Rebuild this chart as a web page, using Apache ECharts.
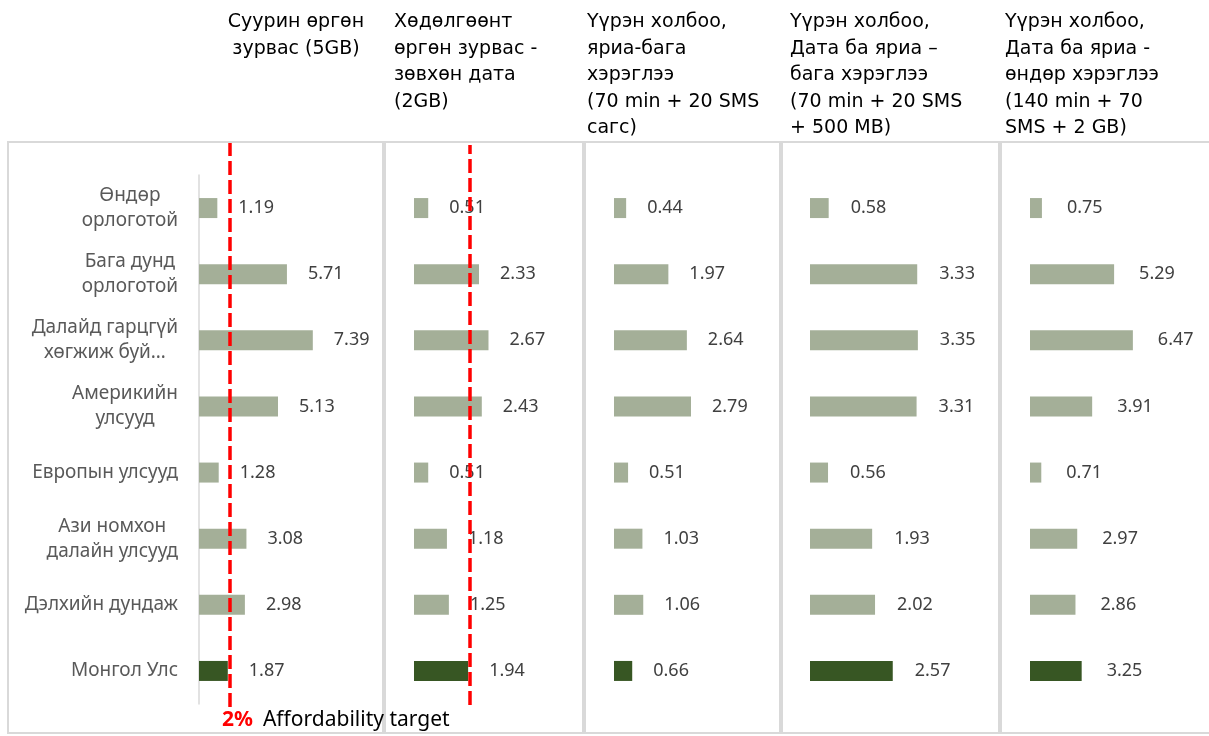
<!DOCTYPE html>
<html>
<head>
<meta charset="utf-8">
<script src="https://cdn.jsdelivr.net/npm/echarts@6/dist/echarts.min.js"></script>
<style>
html, body { margin: 0; padding: 0; background: #fff; }
#chart { width: 1209px; height: 736px; }
</style>
</head>
<body>
<div id="chart"></div>
<script>
// categories (top to bottom)
const categories = [
    'Өндөр\nорлоготой',
    'Бага дунд\nорлоготой',
    'Далайд гарцгүй\nхөгжиж буй…',
    'Америкийн\nулсууд',
    'Европын улсууд',
    'Ази номхон\nдалайн улсууд',
    'Дэлхийн дундаж',
    'Монгол Улс'
]
const highlightCategory = 'Монгол Улс'

// panel headers
const headers = [
    'Суурин өргөн\nзурвас (5GB)',
    'Хөдөлгөөнт\nөргөн зурвас -\nзөвхөн дата\n(2GB)',
    'Үүрэн холбоо,\nяриа-бага\nхэрэглээ\n(70 min + 20 SMS\nсагс)',
    'Үүрэн холбоо,\nДата ба яриа –\nбага хэрэглээ\n(70 min + 20 SMS\n+ 500 MB)',
    'Үүрэн холбоо,\nДата ба яриа -\nөндөр хэрэглээ\n(140 min + 70\nSMS + 2 GB)'
]

// values, % of income
const fixedBroadband = [1.19, 5.71, 7.39, 5.13, 1.28, 3.08, 2.98, 1.87]
const mobileDataOnly = [0.51, 2.33, 2.67, 2.43, 0.51, 1.18, 1.25, 1.94]
const voiceLowUsage = [0.44, 1.97, 2.64, 2.79, 0.51, 1.03, 1.06, 0.66]
const dataVoiceLowUsage = [0.58, 3.33, 3.35, 3.31, 0.56, 1.93, 2.02, 2.57]
const dataVoiceHighUsage = [0.75, 5.29, 6.47, 3.91, 0.71, 2.97, 2.86, 3.25]

const affordabilityTarget = 2
const axisMax = [10, 5, 5, 5, 10]

const panelValues = [fixedBroadband, mobileDataOnly, voiceLowUsage, dataVoiceLowUsage, dataVoiceHighUsage]

// layout of each panel (bar area)
const panels = [
    {left: 199, width: 154, labelDist: 21, header: {left: 296, align: 'center'}},
    {left: 414, width: 139.5, labelDist: 21, header: {left: 394, align: 'left'}},
    {left: 614, width: 138, labelDist: 21, header: {left: 587, align: 'left'}},
    {left: 810, width: 161, labelDist: 22, header: {left: 790, align: 'left'}},
    {left: 1030, width: 159, labelDist: 25, header: {left: 1005, align: 'left'}}
]
const frames = [[8, 375], [385, 198], [585, 195], [782, 217], [1001, 210]]

const LIGHT = '#a4af98'
const DARK = '#375623'
const FONT = 'Noto Sans'
const HEAD_FONT = 'DejaVu Sans'

const grid = []
const xAxis = []
const yAxis = []
const series = []
const title = []

panels.forEach(function (p, i) {
    grid.push({left: p.left, width: p.width, top: 175, height: 529})
    xAxis.push({type: 'value', gridIndex: i, min: 0, max: axisMax[i], show: false})
    yAxis.push({
        type: 'category',
        gridIndex: i,
        inverse: true,
        data: categories,
        axisTick: {show: false},
        axisLine: {show: i === 0, lineStyle: {color: '#d9d9d9', width: 1.5}},
        axisLabel: {
            show: i === 0,
            margin: 21,
            formatter: function (v) {
                return v.split('\n').map(function (s) { return '{c|' + s + '}' }).join('\n')
            },
            rich: {
                c: {align: 'center', fontSize: 19, color: '#595959', fontFamily: FONT, lineHeight: 25}
            }
        }
    })
    series.push({
        type: 'bar',
        xAxisIndex: i,
        yAxisIndex: i,
        barWidth: 20,
        data: panelValues[i],
        itemStyle: {
            color: function (params) {
                return params.name === highlightCategory ? DARK : LIGHT
            }
        },
        label: {
            show: true,
            position: 'right',
            distance: p.labelDist,
            fontSize: 18,
            fontFamily: FONT,
            color: '#404040',
            formatter: function (params) { return params.value.toFixed(2) }
        },
        z: 2
    })
    title.push({
        text: headers[i],
        left: p.header.left,
        top: 9,
        padding: 0,
        textAlign: p.header.align,
        textStyle: {fontSize: 19, lineHeight: 26.5, fontFamily: HEAD_FONT, fontWeight: 'normal', color: '#000'}
    })
})

// overlay grids for the 2% target lines (first two panels), taller than the bar area
const targetLines = [
    {panel: 0, top: 143, height: 564},
    {panel: 1, top: 145, height: 560}
]
targetLines.forEach(function (t, k) {
    const idx = panels.length + k
    const p = panels[t.panel]
    grid.push({left: p.left, width: p.width, top: t.top, height: t.height})
    xAxis.push({type: 'value', gridIndex: idx, min: 0, max: axisMax[t.panel], show: false})
    yAxis.push({type: 'value', gridIndex: idx, min: 0, max: 1, show: false})
    series.push({
        type: 'scatter',
        xAxisIndex: idx,
        yAxisIndex: idx,
        data: [],
        z: 5,
        markLine: {
            silent: true,
            symbol: 'none',
            label: {show: false},
            lineStyle: {color: '#ff0000', width: 3.5, type: [14, 5]},
            data: [{xAxis: affordabilityTarget}]
        }
    })
})

title.push({
    text: '{r|' + affordabilityTarget + '%}  {t|Affordability target}',
    left: 222,
    top: 710,
    padding: 0,
    textStyle: {
        fontWeight: 'normal',
        rich: {
            r: {color: '#ff0000', fontWeight: 'bold', fontSize: 21, fontFamily: FONT},
            t: {color: '#000', fontWeight: 'normal', fontSize: 21, fontFamily: FONT}
        }
    }
})

const option = {
    backgroundColor: '#fff',
    animation: false,
    title: title,
    grid: grid,
    xAxis: xAxis,
    yAxis: yAxis,
    series: series,
    graphic: frames.map(function (f) {
        return {
            type: 'rect',
            silent: true,
            z: -1,
            shape: {x: f[0], y: 142, width: f[1], height: 591},
            style: {fill: 'none', stroke: '#d9d9d9', lineWidth: 2}
        }
    })
}

const chart = echarts.init(document.getElementById('chart'))
chart.setOption(option)
</script>
</body>
</html>
